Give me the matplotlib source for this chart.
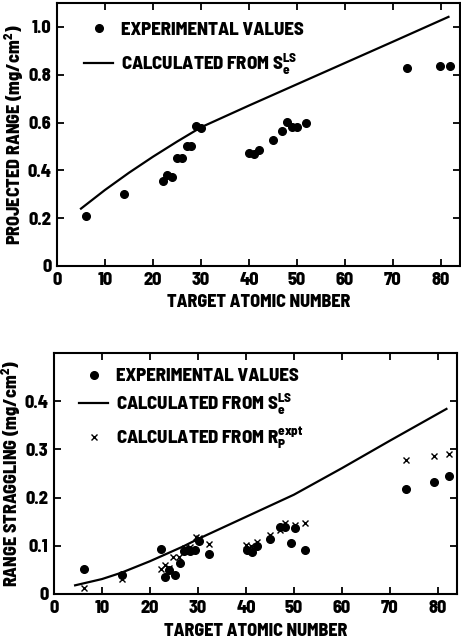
import numpy as np
import matplotlib
matplotlib.use('Agg')
import matplotlib.pyplot as plt
from matplotlib.lines import Line2D

plt.rcParams['font.family'] = ['Barlow Semi Condensed', 'DejaVu Sans']
plt.rcParams['font.weight'] = 800
plt.rcParams['axes.labelweight'] = 800
plt.rcParams['mathtext.fontset'] = 'custom'
plt.rcParams['mathtext.rm'] = 'Barlow Semi Condensed:weight=800'
plt.rcParams['mathtext.bf'] = 'Barlow Semi Condensed:weight=800'
plt.rcParams['mathtext.it'] = 'Barlow Semi Condensed:weight=800'

# --- projected range data ---
z_range = [6, 14, 22, 23, 24, 25, 26, 27, 28, 29, 30, 40, 41, 42, 45, 47, 48, 49, 50, 52, 73, 79.8, 82]
rp_expt = [0.21, 0.30, 0.354, 0.382, 0.371, 0.452, 0.451, 0.50, 0.50, 0.584, 0.578,
           0.473, 0.47, 0.485, 0.525, 0.566, 0.602, 0.583, 0.581, 0.599, 0.828, 0.837, 0.837]
z_calc_rp = [5, 10, 15, 20, 25, 30, 40, 50, 60, 70, 81.6]
rp_calc = [0.24, 0.318, 0.39, 0.457, 0.52, 0.58, 0.671, 0.76, 0.849, 0.938, 1.042]

# --- range straggling data ---
z_strag = [6.15, 14.1, 22.2, 23.1, 23.9, 25.3, 26.2, 27.1, 28.0, 28.4, 29.4, 30.3, 32.3,
           40.2, 41.3, 42.3, 45.1, 47.2, 48.2, 49.3, 50.2, 52.3, 73.4, 79.3, 82.3]
strag_expt = [0.052, 0.040, 0.094, 0.035, 0.049, 0.040, 0.064, 0.089, 0.092, 0.090, 0.092,
              0.109, 0.084, 0.092, 0.088, 0.099, 0.115, 0.140, 0.138, 0.105, 0.136, 0.091,
              0.217, 0.233, 0.244]
z_strag_x = [6.15, 14.1, 22.2, 23.1, 23.9, 24.9, 26.0, 27.3, 28.3, 29.6, 30.3, 32.3,
             40.0, 41.0, 42.3, 45.1, 47.2, 48.2, 50.2, 52.3, 73.4, 79.3, 82.3]
strag_from_rp = [0.012, 0.031, 0.052, 0.061, 0.054, 0.077, 0.077, 0.095, 0.098, 0.119, 0.116,
                 0.103, 0.101, 0.099, 0.108, 0.122, 0.133, 0.147, 0.143, 0.148, 0.277, 0.286, 0.291]
z_calc_s = [4.4, 10, 14, 20, 27, 30, 40, 50, 60, 70, 81.8]
strag_calc = [0.018, 0.031, 0.044, 0.068, 0.099, 0.114, 0.16, 0.206, 0.261, 0.318, 0.384]

fs = 13
leg_prop = {'size': 13.5, 'weight': 800}
fig = plt.figure(figsize=(4.61, 6.43), dpi=100)
ax1 = fig.add_axes([57/461, 1 - 266/643, 403/461, 263/643])
ax2 = fig.add_axes([54/461, 1 - 594/643, 403/461, 241/643])


def style_axes(ax):
    for side in ['left', 'right', 'top', 'bottom']:
        ax.spines[side].set_linewidth(1.5)
    ax.tick_params(direction='in', length=5, width=1.3, top=True, right=True,
                   labelsize=fs, pad=4)
    ax.set_xlim(0, 84)
    ax.set_xticks(np.arange(0, 81, 10))
    ax.set_xlabel('TARGET ATOMIC NUMBER', fontsize=fs, fontweight=800, labelpad=5)
    ax.yaxis.set_label_coords(-0.077, 0.5)


# top panel
ax1.plot(z_calc_rp, rp_calc, color='k', lw=1.6)
ax1.plot(z_range, rp_expt, 'o', color='k', ms=5.5, ls='none')
style_axes(ax1)
ax1.set_ylim(0, 1.1)
ax1.set_yticks([0, 0.2, 0.4, 0.6, 0.8, 1.0])
ax1.set_yticklabels(['0', '0.2', '0.4', '0.6', '0.8', '1.0'])
ax1.set_ylabel(r'PROJECTED RANGE (mg/cm$^2$)', fontsize=fs, fontweight=800)
h1 = [Line2D([], [], marker='o', color='k', ls='none', ms=5.5),
      Line2D([], [], color='k', lw=1.6)]
ax1.legend(h1, ['EXPERIMENTAL VALUES', r'CALCULATED FROM S$_{e}^{LS}$'],
           loc='upper left', bbox_to_anchor=(0.067, 0.93), frameon=False,
           prop=leg_prop, handlelength=1.55, handletextpad=0.4, labelspacing=0.75,
           borderpad=0, borderaxespad=0)

# bottom panel
ax2.plot(z_calc_s, strag_calc, color='k', lw=1.6)
ax2.plot(z_strag, strag_expt, 'o', color='k', ms=5.5, ls='none')
ax2.plot(z_strag_x, strag_from_rp, 'x', color='k', ms=4.5, mew=1.0, ls='none')
style_axes(ax2)
ax2.set_ylim(0, 0.5)
ax2.set_yticks([0, 0.1, 0.2, 0.3, 0.4])
ax2.set_yticklabels(['0', '0.1', '0.2', '0.3', '0.4'])
ax2.set_ylabel(r'RANGE STRAGGLING (mg/cm$^2$)', fontsize=fs, fontweight=800)
h2 = [Line2D([], [], marker='o', color='k', ls='none', ms=5.5),
      Line2D([], [], color='k', lw=1.6),
      Line2D([], [], marker='x', color='k', ls='none', ms=4.5, mew=1.0)]
ax2.legend(h2, ['EXPERIMENTAL VALUES', r'CALCULATED FROM S$_{e}^{LS}$',
                r'CALCULATED FROM R$_{P}^{expt}$'],
           loc='upper left', bbox_to_anchor=(0.062, 0.937), frameon=False,
           prop=leg_prop, handlelength=1.55, handletextpad=0.4, labelspacing=0.4,
           borderpad=0, borderaxespad=0)

for ax in (ax1, ax2):
    for lab in ax.get_xticklabels() + ax.get_yticklabels():
        lab.set_fontweight(800)

fig.savefig('out.png', dpi=100)
